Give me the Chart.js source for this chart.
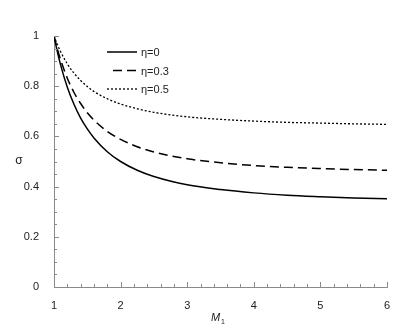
<!DOCTYPE html>
<html>
<head>
<meta charset="utf-8">
<script src="https://cdn.jsdelivr.net/npm/chart.js@4"></script>
<style>
  body { margin: 0; background: #fff; }
  canvas { display: block; }
</style>
</head>
<body>
<canvas id="sigmaChart" width="415" height="331"></canvas>
<script>
const machValues = [1, 1.05, 1.1, 1.2, 1.3, 1.4, 1.5, 1.6, 1.8, 2, 2.25, 2.5, 3, 3.5, 4, 4.5, 5, 5.5, 6];

const sigmaEta0 = [1, 0.938, 0.884, 0.796, 0.728, 0.673, 0.630, 0.594, 0.539, 0.500, 0.465, 0.440, 0.407, 0.388, 0.375, 0.366, 0.360, 0.355, 0.352];
const sigmaEta03 = [1, 0.949, 0.905, 0.832, 0.775, 0.731, 0.694, 0.665, 0.620, 0.588, 0.559, 0.538, 0.511, 0.495, 0.484, 0.477, 0.472, 0.468, 0.465];
const sigmaEta05 = [1, 0.966, 0.937, 0.889, 0.852, 0.823, 0.799, 0.779, 0.750, 0.729, 0.710, 0.696, 0.678, 0.668, 0.661, 0.656, 0.653, 0.650, 0.648];

const seriesLabels = ['η=0', 'η=0.3', 'η=0.5'];
const dashes = [[], [9, 5], [2, 2]];

const font = "'Liberation Sans', Arial, sans-serif";

function toPoints(ys) {
  return machValues.map((x, i) => ({ x: x, y: ys[i] }));
}

// ticks drawn inward, legend inside the plot, axis titles
const decorations = {
  id: 'decorations',
  afterDraw(chart) {
    const c = chart.ctx;
    const xs = chart.scales.x;
    const ys = chart.scales.y;
    c.save();
    c.strokeStyle = '#8a8a8a';
    c.lineWidth = 1;
    xs.ticks.forEach(t => {
      const px = Math.round(xs.getPixelForValue(t.value)) + 0.5;
      const major = Math.abs(t.value - Math.round(t.value)) < 1e-6;
      c.beginPath();
      c.moveTo(px, ys.bottom);
      c.lineTo(px, ys.bottom - (major ? 5 : 3));
      c.stroke();
    });
    ys.ticks.forEach(t => {
      const py = Math.round(ys.getPixelForValue(t.value)) + 0.5;
      const major = Math.abs(t.value * 5 - Math.round(t.value * 5)) < 1e-6;
      c.beginPath();
      c.moveTo(xs.left, py);
      c.lineTo(xs.left + (major ? 5 : 3), py);
      c.stroke();
    });

    // legend
    c.font = '11px ' + font;
    c.textBaseline = 'middle';
    c.fillStyle = '#222';
    chart.data.datasets.forEach((ds, i) => {
      const y = 52 + i * 18.5;
      c.strokeStyle = '#000';
      c.lineWidth = ds.borderWidth;
      c.setLineDash(ds.borderDash || []);
      c.beginPath();
      c.moveTo(i === 1 ? 113 : 107, y);
      c.lineTo(137, y);
      c.stroke();
      c.setLineDash([]);
      c.fillText(ds.label, 141, y + 1);
    });

    // axis titles
    c.fillStyle = '#222';
    c.textAlign = 'center';
    c.font = '12px ' + font;
    c.fillText('σ', 19, (ys.top + ys.bottom) / 2 - 1);
    c.textAlign = 'left';
    c.font = 'italic 11px ' + font;
    c.fillText('M', 211, 318);
    c.font = '7px ' + font;
    c.fillText('1', 221, 322);
    c.restore();
  }
};

new Chart(document.getElementById('sigmaChart').getContext('2d'), {
  type: 'line',
  data: {
    datasets: [
      { label: seriesLabels[0], data: toPoints(sigmaEta0), borderDash: dashes[0], borderWidth: 1.5 },
      { label: seriesLabels[1], data: toPoints(sigmaEta03), borderDash: dashes[1], borderWidth: 1.5 },
      { label: seriesLabels[2], data: toPoints(sigmaEta05), borderDash: dashes[2], borderWidth: 1.3 }
    ].map(ds => Object.assign(ds, {
      borderColor: '#000',
      backgroundColor: '#000',
      pointRadius: 0,
      cubicInterpolationMode: 'monotone',
      fill: false
    }))
  },
  options: {
    responsive: false,
    animation: false,
    layout: { padding: { left: 0, top: 36, right: 28, bottom: 0 } },
    plugins: {
      legend: { display: false },
      tooltip: { enabled: false }
    },
    scales: {
      x: {
        type: 'linear',
        min: 1,
        max: 6,
        grid: { display: false },
        border: { display: true, color: '#8a8a8a', width: 1 },
        ticks: {
          stepSize: 0.2,
          autoSkip: false,
          maxRotation: 0,
          padding: 4,
          color: '#222',
          font: { size: 11, family: font },
          callback: v => Math.abs(v - Math.round(v)) < 1e-6 ? String(Math.round(v)) : ''
        },
        afterFit: s => { s.height = 44; }
      },
      y: {
        min: 0,
        max: 1,
        grid: { display: false },
        border: { display: true, color: '#8a8a8a', width: 1 },
        ticks: {
          stepSize: 0.05,
          autoSkip: false,
          padding: 7,
          color: '#222',
          font: { size: 11, family: font },
          callback: v => Math.abs(v * 5 - Math.round(v * 5)) < 1e-6 ? String(Math.round(v * 5) / 5) : ''
        },
        afterFit: s => { s.width = 54; }
      }
    }
  },
  plugins: [decorations]
});
</script>
</body>
</html>
